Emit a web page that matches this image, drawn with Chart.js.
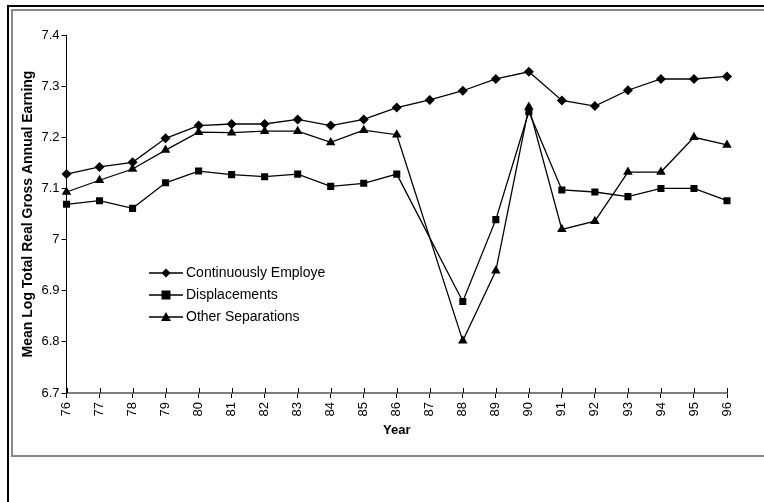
<!DOCTYPE html>
<html>
<head>
<meta charset="utf-8">
<script src="https://cdn.jsdelivr.net/npm/chart.js@4"></script>
<style>
  body { margin: 0; background: #fff; }
  #wrap { position: relative; width: 764px; height: 502px; overflow: hidden; }
  #outer { position: absolute; left: 7px; top: 5px; width: 800px; height: 600px; border-left: 2px solid #000; border-top: 2px solid #000; }
  #inner { position: absolute; left: 11px; top: 9px; width: 800px; height: 444px; border: 2px solid #888; }
  canvas { position: absolute; left: 0; top: 0; }
</style>
</head>
<body>
<div id="wrap">
  <div id="outer"></div>
  <div id="inner"></div>
  <canvas id="chart" width="764" height="502"></canvas>
</div>
<script>
const years = ['76','77','78','79','80','81','82','83','84','85','86','87','88','89','90','91','92','93','94','95','96'];
const continuouslyEmployed = [7.128, 7.142, 7.151, 7.198, 7.223, 7.226, 7.226, 7.235, 7.223, 7.235, 7.258, 7.273, 7.291, 7.314, 7.328, 7.272, 7.261, 7.292, 7.314, 7.314, 7.319];
const displacements = [7.069, 7.076, 7.061, 7.111, 7.134, 7.127, 7.123, 7.128, 7.104, 7.110, 7.128, null, 6.879, 7.039, 7.250, 7.097, 7.093, 7.084, 7.100, 7.100, 7.076];
const otherSeparations = [7.093, 7.116, 7.138, 7.175, 7.210, 7.209, 7.212, 7.212, 7.190, 7.214, 7.205, null, 6.802, 6.939, 7.259, 7.020, 7.036, 7.132, 7.132, 7.200, 7.185];
const seriesNames = ['Continuously Employe', 'Displacements', 'Other Separations'];

const FONT = "'Liberation Sans', Arial, sans-serif";

function drawMarker(ctx, style, x, y) {
    ctx.beginPath();
    if (style === 'rectRot') {
        ctx.moveTo(x, y - 4.5); ctx.lineTo(x + 4.5, y); ctx.lineTo(x, y + 4.5); ctx.lineTo(x - 4.5, y);
    } else if (style === 'rect') {
        ctx.rect(x - 4.5, y - 4.5, 9, 9);
    } else {
        ctx.moveTo(x, y - 5); ctx.lineTo(x + 5, y + 4); ctx.lineTo(x - 5, y + 4);
    }
    ctx.closePath();
    ctx.fill();
}

// legend drawn inside the plot, line through marker
const legendInPlot = {
    id: 'legendInPlot',
    afterDraw(chart) {
        const ctx = chart.ctx;
        ctx.save();
        ctx.fillStyle = '#000';
        ctx.strokeStyle = '#000';
        ctx.lineWidth = 1.3;
        ctx.font = '14px ' + FONT;
        ctx.textBaseline = 'middle';
        chart.data.datasets.forEach((ds, i) => {
            const y = 273 + i * 22;
            ctx.beginPath();
            ctx.moveTo(149, y); ctx.lineTo(183, y);
            ctx.stroke();
            drawMarker(ctx, ds.pointStyle, 166, y);
            ctx.fillText(seriesNames[i], 186, y);
        });
        // x ticks crossing up into plot
        const xs = chart.scales.x;
        const bottom = chart.chartArea.bottom;
        ctx.lineWidth = 1;
        years.forEach((_, i) => {
            const px = Math.round(xs.getPixelForTick(i)) + 0.5;
            ctx.beginPath();
            ctx.moveTo(px, bottom - 5); ctx.lineTo(px, bottom);
            ctx.stroke();
        });
        ctx.restore();
    }
};

function makeSet(label, data, style, radius) {
    return {
        label: label,
        data: data,
        borderColor: '#000',
        backgroundColor: '#000',
        borderWidth: 1.3,
        pointStyle: style,
        pointRadius: radius,
        pointHoverRadius: radius,
        pointBackgroundColor: '#000',
        pointBorderColor: '#000',
        pointBorderWidth: 0,
        tension: 0,
        spanGaps: true,
        fill: false,
    };
}

new Chart(document.getElementById('chart').getContext('2d'), {
    type: 'line',
    data: {
        labels: years,
        datasets: [
            makeSet(seriesNames[0], continuouslyEmployed, 'rectRot', 5),
            makeSet(seriesNames[1], displacements, 'rect', 5),
            makeSet(seriesNames[2], otherSeparations, 'triangle', 5.5),
        ],
    },
    options: {
        responsive: false,
        animation: false,
        events: [],
        layout: { padding: { left: 14, right: 37, top: 35, bottom: 61 } },
        plugins: {
            legend: { display: false },
            tooltip: { enabled: false },
        },
        scales: {
            x: {
                offset: false,
                afterFit(scale) { scale.height = 48; },
                grid: { drawOnChartArea: false, drawTicks: true, tickLength: 5, color: '#000', lineWidth: 1 },
                border: { display: true, color: '#808080', width: 2 },
                ticks: { color: '#000', font: { family: FONT, size: 13 }, minRotation: 90, maxRotation: 90, autoSkip: false, padding: 4 },
                title: { display: true, text: 'Year', color: '#000', font: { family: FONT, size: 13, weight: 'bold' }, padding: { top: 0, bottom: 3 } },
            },
            y: {
                min: 6.7,
                max: 7.4,
                afterFit(scale) { scale.width = 52.5; },
                grid: { drawOnChartArea: false, drawTicks: true, tickLength: 5, color: '#000', lineWidth: 1 },
                border: { display: true, color: '#000', width: 1 },
                ticks: {
                    stepSize: 0.1,
                    color: '#000',
                    padding: 2,
                    font: { family: FONT, size: 13 },
                    callback: v => String(Math.round(v * 10) / 10),
                },
                title: { display: true, text: 'Mean Log Total Real Gross Annual Earning', color: '#000', font: { family: FONT, size: 14, weight: 'bold' }, padding: { top: 6, bottom: 0 } },
            },
        },
    },
    plugins: [legendInPlot],
});
</script>
</body>
</html>
